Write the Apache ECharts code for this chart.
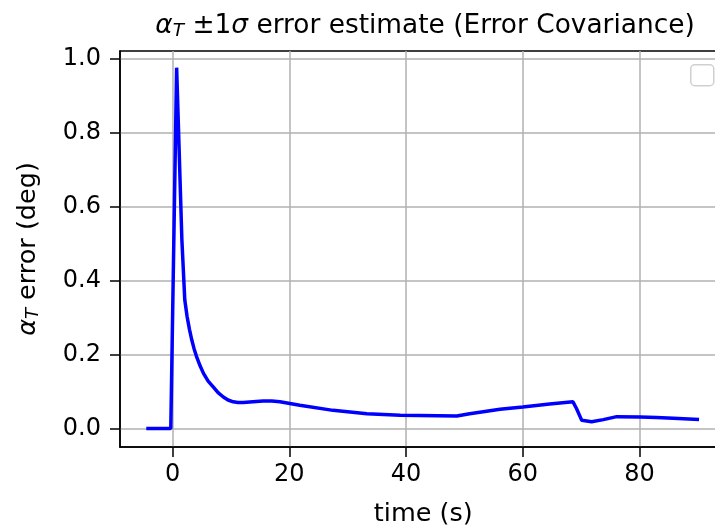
<!DOCTYPE html>
<html>
<head>
<meta charset="utf-8">
<script src="https://cdn.jsdelivr.net/npm/echarts@6/dist/echarts.min.js"></script>
<style>
html,body{margin:0;padding:0;background:#fff;overflow:hidden;}
#chart{width:715px;height:528px;}
</style>
</head>
<body>
<div id="chart"></div>
<script>
// time (s)
var timeS = [-4.5, -0.3, 0.7, 1.6, 2.1, 2.5, 2.9, 3.3, 3.7, 4.1, 4.7, 5.3, 6.1, 7.0, 7.8, 8.7, 9.5, 10.4, 11.2, 12.1, 13.8, 15.5, 17.0, 18.4, 21.8, 27.5, 33.3, 39.0, 48.7, 50.9, 56.1, 60.0, 64.6, 68.6, 69.2, 70.1, 71.8, 73.8, 76.1, 80.1, 82.9, 85.8, 90.2];
// alpha_T error (deg)
var alphaErr = [0, 0, 0.975, 0.51, 0.347, 0.302, 0.268, 0.239, 0.215, 0.195, 0.17, 0.149, 0.128, 0.112, 0.097, 0.085, 0.077, 0.072, 0.070, 0.070, 0.072, 0.074, 0.074, 0.072, 0.063, 0.049, 0.040, 0.036, 0.034, 0.040, 0.052, 0.058, 0.066, 0.072, 0.054, 0.022, 0.018, 0.024, 0.032, 0.031, 0.030, 0.028, 0.024];
var xTicks = [0, 20, 40, 60, 80];
var yTicks = [0.0, 0.2, 0.4, 0.6, 0.8, 1.0];

var data = timeS.map(function (t, i) { return [t, alphaErr[i]]; });
var FONT = 'DejaVu Sans';
var chart = echarts.init(document.getElementById('chart'), null, {renderer: 'canvas'});
chart.setOption({
  animation: false,
  backgroundColor: '#fff',
  title: {
    text: '{a|α}{s|T} ±1{a|σ} error estimate (Error Covariance)',
    left: 420, top: 6, textAlign: 'center',
    textStyle: {
      fontFamily: FONT, fontSize: 26.4, fontWeight: 'normal', color: '#000',
      rich: {
        a: {fontFamily: FONT, fontSize: 26.4, fontStyle: 'italic', color: '#000'},
        s: {fontFamily: FONT, fontSize: 18.5, fontStyle: 'italic', color: '#000', padding: [11, 0, 0, 0]}
      }
    }
  },
  grid: {
    left: 120, top: 51, width: 606.5, height: 396,
    outerBoundsMode: 'none', containLabel: false,
    show: true, borderColor: '#000', borderWidth: 1.5, backgroundColor: '#fff'
  },
  xAxis: {
    type: 'value', min: -9, max: 94.9,
    name: 'time (s)', nameLocation: 'middle', nameGap: 54,
    nameTextStyle: {fontFamily: FONT, fontSize: 25.5, color: '#000'},
    axisLine: {show: true, onZero: false, lineStyle: {color: '#000', width: 1.5}},
    axisTick: {show: true, length: 10, inside: false, customValues: xTicks, lineStyle: {color: '#000', width: 1.5}},
    axisLabel: {customValues: xTicks, margin: 16, fontFamily: FONT, fontSize: 24, color: '#000'},
    splitLine: {show: true, lineStyle: {color: '#b0b0b0', width: 1.5}}
  },
  yAxis: {
    type: 'value', min: -0.05, max: 1.02,
    name: '{a|α}{s|T} error (deg)', nameLocation: 'middle', nameGap: 78,
    nameTextStyle: {fontFamily: FONT, fontSize: 25.5, color: '#000',
      rich: {
        a: {fontFamily: FONT, fontSize: 25.5, fontStyle: 'italic', color: '#000'},
        s: {fontFamily: FONT, fontSize: 18, fontStyle: 'italic', color: '#000', padding: [10, 0, 0, 0]}
      }},
    axisLine: {show: true, onZero: false, lineStyle: {color: '#000', width: 1.5}},
    axisTick: {show: true, length: 10, inside: false, customValues: yTicks, lineStyle: {color: '#000', width: 1.5}},
    axisLabel: {customValues: yTicks, margin: 19, fontFamily: FONT, fontSize: 24, color: '#000',
      formatter: function (v) { return v.toFixed(1); }},
    splitLine: {show: true, lineStyle: {color: '#b0b0b0', width: 1.5}}
  },
  graphic: [{
    type: 'rect', left: 690, top: 64, z: 100,
    shape: {width: 23, height: 21, r: 4},
    style: {fill: 'rgba(255,255,255,0.8)', stroke: '#d0d0d0', lineWidth: 1.5}
  }],
  series: [{
    type: 'line', data: data, showSymbol: false, smooth: false,
    lineStyle: {color: '#0000ff', width: 3.5},
    itemStyle: {color: '#0000ff'}
  }]
});
</script>
</body>
</html>
